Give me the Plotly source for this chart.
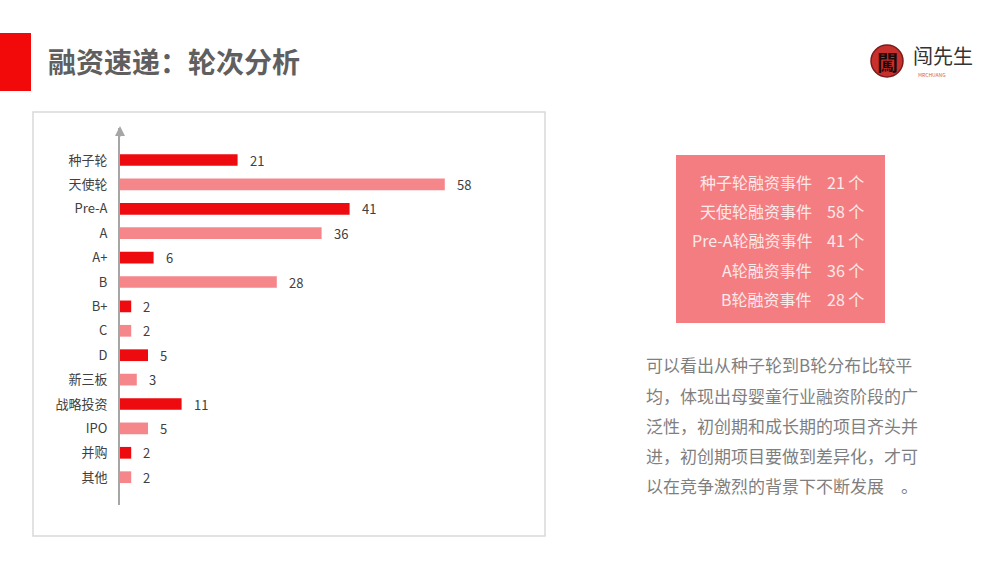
import plotly.graph_objects as go

W, H = 1000, 563

categories = ["种子轮", "天使轮", "Pre-A", "A", "A+", "B", "B+", "C", "D", "新三板", "战略投资", "IPO", "并购", "其他"]
values = [21, 58, 41, 36, 6, 28, 2, 2, 5, 3, 11, 5, 2, 2]
bar_colors = ["#ee0b10", "#f5878b"]

title_text = "融资速递：轮次分析"
box_labels = ["种子", "天使", "Pre-A", "A", "B"]
box_values = [21, 58, 41, 36, 28]
paragraph_lines = [
    "可以看出从种子轮到B轮分布比较平",
    "均，体现出母婴童行业融资阶段的广",
    "泛性，初创期和成长期的项目齐头并",
    "进，初创期项目要做到差异化，才可",
    "以在竞争激烈的背景下不断发展　。",
]

FONT = "Microsoft YaHei, Noto Sans CJK SC, sans-serif"


def px(x):
    return x / W


def py(y):
    return (H - y) / H


colors = [bar_colors[i % 2] for i in range(len(categories))]

fig = go.Figure()
fig.add_trace(go.Bar(
    x=values, y=categories, orientation="h",
    marker=dict(color=colors, line=dict(width=0)),
    hoverinfo="x+y",
))

# value labels
for c, v in zip(categories, values):
    fig.add_annotation(x=v, y=c, xref="x", yref="y", text=str(v), showarrow=False,
                       xanchor="left", yanchor="middle", xshift=10,
                       font=dict(family=FONT, size=13, color="#404040"))

# axis geometry
x_left, x_right = 120, 545
y_top, y_bot = 128, 505
ppu = 5.6
cat_top, cat_step = 160, 24.4
r_top = (y_top - cat_top) / cat_step
r_bot = (y_bot - cat_top) / cat_step

fig.update_layout(
    width=W, height=H, margin=dict(l=0, r=0, t=0, b=0),
    paper_bgcolor="white", plot_bgcolor="rgba(0,0,0,0)",
    showlegend=False, bargap=0.52,
    xaxis=dict(domain=[px(x_left), px(x_right)], range=[0, (x_right - x_left) / ppu],
               showgrid=False, zeroline=False, showticklabels=False, showline=False),
    yaxis=dict(domain=[py(y_bot), py(y_top)], range=[r_bot, r_top],
               categoryorder="array", categoryarray=categories,
               showgrid=False, zeroline=False, showline=True, linecolor="#a6a6a6", linewidth=2,
               ticks="", ticklabelstandoff=8,
               tickfont=dict(family=FONT, size=13, color="#404040")),
)

# chart frame
fig.add_shape(type="rect", xref="paper", yref="paper", x0=px(33), x1=px(545), y0=py(536), y1=py(112),
              line=dict(color="#d9d9d9", width=1.5), fillcolor="rgba(0,0,0,0)", layer="below")
# arrowhead on axis
fig.add_annotation(x=px(x_left), y=py(y_top - 2), xref="paper", yref="paper", text="", showarrow=True,
                   ax=0, ay=12, arrowhead=2, arrowsize=1, arrowwidth=2, arrowcolor="#a6a6a6")

# title block
fig.add_shape(type="rect", xref="paper", yref="paper", x0=0, x1=px(31), y0=py(91), y1=py(33),
              line=dict(width=0), fillcolor="#f20a0a")
fig.add_annotation(x=px(46), y=py(61), xref="paper", yref="paper", text="<b>" + title_text + "</b>",
                   showarrow=False, xanchor="left", yanchor="middle",
                   font=dict(family=FONT, size=28, color="#5f5f5f"))

# logo
fig.add_shape(type="circle", xref="paper", yref="paper", x0=px(871), x1=px(903), y0=py(77), y1=py(45),
              line=dict(color="#7a1a1a", width=1.5), fillcolor="#c8302d")
fig.add_annotation(x=px(887), y=py(61), xref="paper", yref="paper", text="<b>闖</b>", showarrow=False,
                   xanchor="center", yanchor="middle",
                   font=dict(family=FONT, size=21, color="#1e0808"))
fig.add_annotation(x=px(911), y=py(55), xref="paper", yref="paper", text="闯先生", showarrow=False,
                   xanchor="left", yanchor="middle", font=dict(family=FONT, size=20, color="#333333"))
fig.add_annotation(x=px(932), y=py(74), xref="paper", yref="paper", text="MRCHUANG", showarrow=False,
                   xanchor="center", yanchor="middle", font=dict(family=FONT, size=5, color="#d06060"))

# pink info box
fig.add_shape(type="rect", xref="paper", yref="paper", x0=px(676), x1=px(885), y0=py(323), y1=py(155),
              line=dict(width=0), fillcolor="#f47d81")
for i, (lab, v) in enumerate(zip(box_labels, box_values)):
    yy = 182 + i * 29.2
    fig.add_annotation(x=px(814), y=py(yy), xref="paper", yref="paper", text=f"{lab}轮融资事件",
                       showarrow=False, xanchor="right", yanchor="middle",
                       font=dict(family=FONT, size=16, color="#fde9e9"))
    fig.add_annotation(x=px(825), y=py(yy), xref="paper", yref="paper", text=f"{v} 个",
                       showarrow=False, xanchor="left", yanchor="middle",
                       font=dict(family=FONT, size=16, color="#fde9e9"))

# paragraph
for i, line in enumerate(paragraph_lines):
    yy = 365 + i * 30
    fig.add_annotation(x=px(644), y=py(yy), xref="paper", yref="paper", text=line,
                       showarrow=False, xanchor="left", yanchor="middle",
                       font=dict(family=FONT, size=17, color="#7f7f7f"))

fig.write_html("out.html", config={"displayModeBar": False},
               post_script="document.body.style.margin='0px';document.body.style.padding='0px';")
